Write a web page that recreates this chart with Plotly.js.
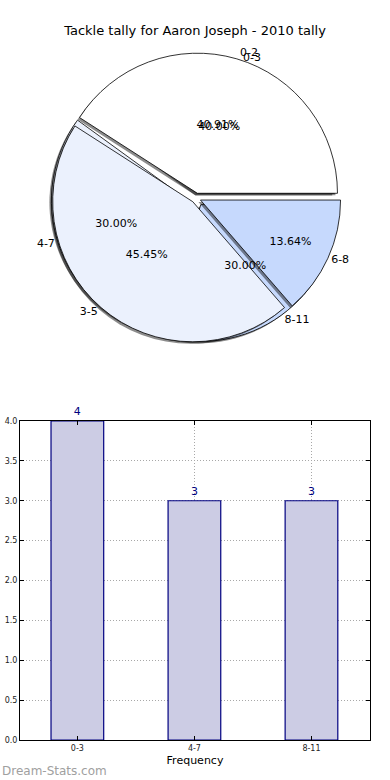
<!DOCTYPE html>
<html>
<head>
<meta charset="utf-8">
<script src="https://cdn.plot.ly/plotly-3.0.1.min.js"></script>
<style>
html,body{margin:0;padding:0;background:#fff;}
#chart{width:390px;height:780px;}
</style>
</head>
<body>
<div id="chart"></div>
<script>
// Pie A (tackles per game ranges)
const pieALabels = ["0-2", "3-5", "6-8"];
const pieAValues = [9, 10, 3];
// Pie B (frequency ranges)
const pieBLabels = ["0-3", "4-7", "8-11"];
const pieBValues = [4, 3, 3];
// Bar chart
const barCategories = ["0-3", "4-7", "8-11"];
const barValues = [4, 3, 3];
const yTicks = [0, 0.5, 1, 1.5, 2, 2.5, 3, 3.5, 4];

const sliceColors = ["#ffffff", "#ebf1fd", "#c6d9fd"];
const pieCx = 196, pieCy = 198, pieHalf = 145;
function domainAt(cx, cy) {
  return {x: [(cx - pieHalf)/390, (cx + pieHalf)/390],
          y: [1 - (cy + pieHalf)/780, 1 - (cy - pieHalf)/780]};
}
const pieDomain = domainAt(pieCx, pieCy);
const shadowDomain = domainAt(pieCx - 2, pieCy + 2);
const pullA = [0.035, 0.035, 0.035];
const pullB = [0.035, 0.06, 0.06];
const FONT = "DejaVu Sans, sans-serif";
const CLEAR = ["rgba(0,0,0,0)", "rgba(0,0,0,0)", "rgba(0,0,0,0)"];
const SHADOW = ["rgba(0,0,0,0.45)", "rgba(0,0,0,0.45)", "rgba(0,0,0,0.45)"];

// first slice starts at 3 o'clock and slices go counterclockwise (matplotlib style)
function pieBase(labels, values, pull, domain) {
  const total = values.reduce(function (a, b) { return a + b; }, 0);
  return {
    type: "pie", labels: labels, values: values, sort: false,
    direction: "counterclockwise", rotation: 90 - 360 * values[0] / total, pull: pull,
    domain: domain || pieDomain, hoverinfo: "none", showlegend: false
  };
}

const txtFont = {family: FONT, size: 11, color: "#000000"};
const traces = [];
[[pieBLabels, pieBValues, pullB], [pieALabels, pieAValues, pullA]].forEach(function (p) {
  traces.push(Object.assign(pieBase(p[0], p[1], p[2], shadowDomain), {
    marker: {colors: SHADOW, line: {width: 0}}, textinfo: "none"
  }));
  traces.push(Object.assign(pieBase(p[0], p[1], p[2]), {
    marker: {colors: sliceColors, line: {color: "#000", width: 0.8}}, textinfo: "none"
  }));
});
[[pieBLabels, pieBValues, pullB], [pieALabels, pieAValues, pullA]].forEach(function (p) {
  traces.push(Object.assign(pieBase(p[0], p[1], p[2]), {
    marker: {colors: CLEAR, line: {width: 0}},
    texttemplate: "%{percent:.2%}", textposition: "inside", insidetextorientation: "horizontal",
    textfont: txtFont, insidetextfont: txtFont
  }));
});
[[pieBLabels, pieBValues, pullB], [pieALabels, pieAValues, pullA]].forEach(function (p) {
  traces.push(Object.assign(pieBase(p[0], p[1], p[2]), {
    marker: {colors: CLEAR, line: {width: 0}},
    texttemplate: "%{label}", textposition: "outside",
    textfont: txtFont, outsidetextfont: txtFont
  }));
});

traces.push({
  type: "bar", x: barCategories, y: barValues, width: 0.45,
  marker: {color: "#ccccE4", line: {color: "#000080", width: 1.2}},
  text: barValues.map(String), textposition: "outside", cliponaxis: false,
  textfont: {family: FONT, size: 11, color: "#000080"},
  hoverinfo: "none", showlegend: false, xaxis: "x", yaxis: "y"
});
// empty overlay trace so the dotted grid is drawn above the bars
traces.push({type: "scatter", x: [], y: [], xaxis: "x2", yaxis: "y2", showlegend: false, hoverinfo: "none"});

const gridDash = "1px,2px";
const layout = {
  width: 390, height: 780,
  margin: {l: 0, r: 0, t: 0, b: 0},
  paper_bgcolor: "#fff", plot_bgcolor: "#fff",
  font: {family: FONT, color: "#000"},
  title: {text: "Tackle tally for Aaron Joseph - 2010 tally", font: {family: FONT, size: 13, color: "#000"},
          x: 0.5, xanchor: "center", y: 1 - 30/780, yanchor: "middle"},
  xaxis: {
    domain: [20/390, 370/390], range: [-0.49, 2.5], type: "category",
    showline: true, linecolor: "#000", linewidth: 1, mirror: "ticks",
    ticks: "inside", ticklen: 4, tickcolor: "#000",
    showgrid: false,
    tickfont: {family: FONT, size: 8, color: "#222"},
    title: {text: "Frequency", font: {family: FONT, size: 11, color: "#000"}, standoff: 4},
    automargin: false, zeroline: false
  },
  yaxis: {
    domain: [1 - 740/780, 1 - 421/780], range: [0, 4],
    tickvals: yTicks, tickformat: ".1f",
    showline: true, linecolor: "#000", linewidth: 1, mirror: "ticks",
    ticks: "inside", ticklen: 4, tickcolor: "#000",
    showgrid: false,
    tickfont: {family: FONT, size: 8, color: "#222"},
    automargin: false, zeroline: false
  },
  xaxis2: {
    overlaying: "x", range: [-0.49, 2.5], tickvals: [0, 1, 2], showticklabels: false,
    showgrid: true, gridcolor: "#a8a8a8", griddash: gridDash, gridwidth: 1,
    zeroline: false, showline: false, ticks: "", anchor: "y2"
  },
  yaxis2: {
    overlaying: "y", range: [0, 4], tickvals: yTicks, showticklabels: false,
    showgrid: true, gridcolor: "#a8a8a8", griddash: gridDash, gridwidth: 1,
    zeroline: false, showline: false, ticks: "", anchor: "x2"
  },
  annotations: [{
    text: "Dream-Stats.com", xref: "paper", yref: "paper", x: 0, y: 0,
    xanchor: "left", yanchor: "bottom", showarrow: false,
    font: {family: FONT, size: 12, color: "#a0a0a0"}
  }]
};

Plotly.newPlot("chart", traces, layout, {staticPlot: true, displayModeBar: false});
</script>
</body>
</html>
